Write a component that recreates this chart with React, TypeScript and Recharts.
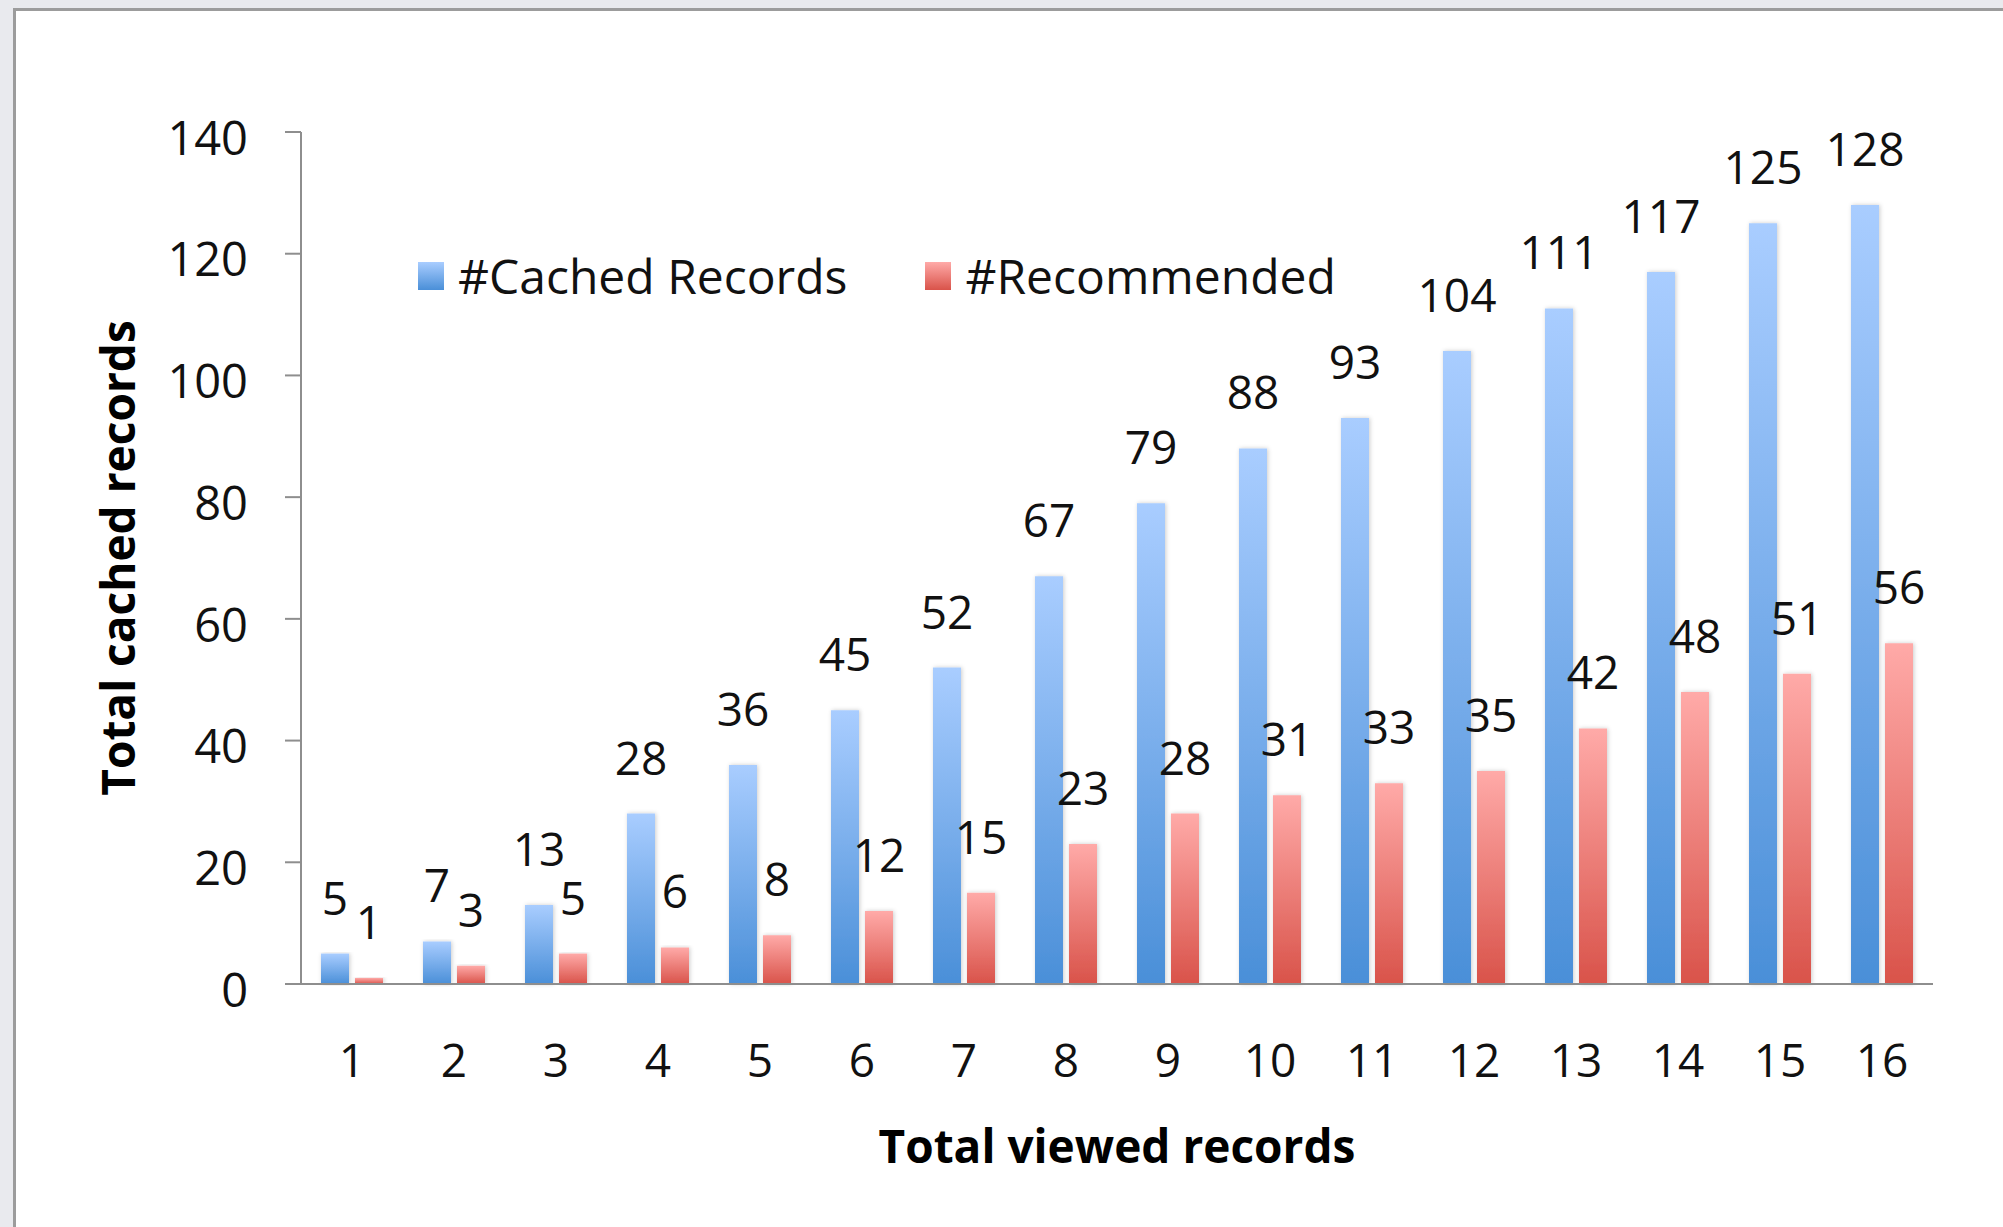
import { BarChart, Bar, XAxis, YAxis, LabelList, Legend, Label } from 'recharts';

// ── data ─────────────────────────────────────────────────────────────
const viewed = ['1', '2', '3', '4', '5', '6', '7', '8', '9', '10', '11', '12', '13', '14', '15', '16'];
const cached = [5, 7, 13, 28, 36, 45, 52, 67, 79, 88, 93, 104, 111, 117, 125, 128];
const recommended = [1, 3, 5, 6, 8, 12, 15, 23, 28, 31, 33, 35, 42, 48, 51, 56];
const yTicks = [0, 20, 40, 60, 80, 100, 120, 140];

const data = viewed.map((name, i) => ({ name, cached: cached[i], recommended: recommended[i] }));

const FONT = '"Open Sans", sans-serif';
const AXIS = '#8e8e8e';

const legendItems = [
  { label: '#Cached Records', top: '#a9cdff', bottom: '#4a8fd8' },
  { label: '#Recommended', top: '#ffaaa8', bottom: '#d9534a' },
];

function LegendBox() {
  return (
    <div style={{ display: 'flex', alignItems: 'center', fontFamily: FONT, fontSize: 48, color: '#111' }}>
      {legendItems.map((it, i) => (
        <div key={i} style={{ display: 'flex', alignItems: 'center', marginRight: i === 0 ? 78 : 0 }}>
          <div
            style={{
              width: 26,
              height: 28,
              marginRight: 14,
              background: `linear-gradient(${it.top}, ${it.bottom})`,
            }}
          />
          <span style={{ lineHeight: 1 }}>{it.label}</span>
        </div>
      ))}
    </div>
  );
}

function YTitle({ viewBox }: any) {
  const cx = viewBox.x + 116;
  const cy = viewBox.y + viewBox.height / 2;
  return (
    <text
      x={cx}
      y={cy}
      transform={`rotate(-90, ${cx}, ${cy})`}
      textAnchor="middle"
      dominantBaseline="central"
      fontFamily={FONT}
      fontWeight={700}
      fontSize={46}
      fill="#000"
    >
      Total cached records
    </text>
  );
}

function XTitle({ viewBox }: any) {
  return (
    <text
      x={viewBox.x + viewBox.width / 2}
      y={viewBox.y + 161}
      textAnchor="middle"
      dominantBaseline="central"
      fontFamily={FONT}
      fontWeight={700}
      fontSize={46}
      fill="#000"
    >
      Total viewed records
    </text>
  );
}

export default function App() {
  return (
    <div style={{ position: 'absolute', left: 0, top: 0, width: 2003, height: 1227, background: '#e9eaee', overflow: 'hidden' }}>
      <div
        style={{
          position: 'absolute',
          left: 13,
          top: 8,
          width: 2100,
          height: 1300,
          background: '#fff',
          border: '3px solid #9c9c9c',
        }}
      />
      <div style={{ position: 'absolute', left: 0, top: 0 }}>
        <BarChart
          width={2003}
          height={1227}
          data={data}
          margin={{ top: 132, right: 70, bottom: 75, left: 1 }}
          barSize={28}
          barGap={6}
        >
          <defs>
            <linearGradient id="blueGrad" x1="0" y1="0" x2="0" y2="1">
              <stop offset="0%" stopColor="#a9cdff" />
              <stop offset="100%" stopColor="#4a8fd8" />
            </linearGradient>
            <linearGradient id="redGrad" x1="0" y1="0" x2="0" y2="1">
              <stop offset="0%" stopColor="#ffaaa8" />
              <stop offset="100%" stopColor="#d9534a" />
            </linearGradient>
            <filter id="barShadow" x="-30%" y="-5%" width="160%" height="110%">
              <feDropShadow dx="1" dy="0" stdDeviation="2" floodColor="#000" floodOpacity="0.2" />
            </filter>
          </defs>
          <XAxis
            dataKey="name"
            axisLine={{ stroke: AXIS, strokeWidth: 2 }}
            tickLine={false}
            tickSize={0}
            tickMargin={60}
            height={120}
            interval={0}
            tick={{ fontFamily: FONT, fontSize: 46, fill: '#111' }}
          >
            <Label content={XTitle} />
          </XAxis>
          <YAxis
            width={300}
            domain={[0, 140]}
            ticks={yTicks}
            axisLine={{ stroke: AXIS, strokeWidth: 2 }}
            tickLine={{ stroke: AXIS, strokeWidth: 2 }}
            tickSize={16}
            tickMargin={37}
            tick={{ fontFamily: FONT, fontSize: 47, fill: '#111', dy: 6 }}
          >
            <Label content={YTitle} />
          </YAxis>
          <Legend
            content={LegendBox}
            wrapperStyle={{ position: 'absolute', left: 418, top: 252, width: 'auto' }}
          />
          <Bar dataKey="cached" fill="url(#blueGrad)" filter="url(#barShadow)" isAnimationActive={false}>
            <LabelList
              dataKey="cached"
              position="top"
              offset={39}
              style={{ fontFamily: FONT, fontSize: 46, fill: '#111' }}
            />
          </Bar>
          <Bar dataKey="recommended" fill="url(#redGrad)" filter="url(#barShadow)" isAnimationActive={false}>
            <LabelList
              dataKey="recommended"
              position="top"
              offset={39}
              style={{ fontFamily: FONT, fontSize: 46, fill: '#111' }}
            />
          </Bar>
        </BarChart>
      </div>
    </div>
  );
}
